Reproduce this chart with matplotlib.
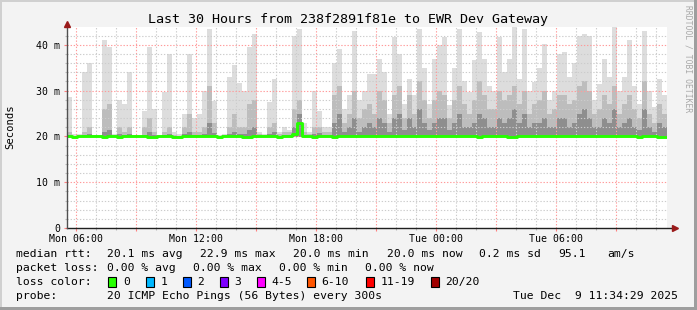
import numpy as np
import matplotlib
matplotlib.use("Agg")
import matplotlib.pyplot as plt
from matplotlib.patches import Rectangle

plt.rcParams['font.family'] = ['DejaVu Sans Mono']

# ---- data (15 min slots, Mon 05:34:29 -> Tue 11:34:29) ----
t_start = 5 + 34/60 + 29/3600   # hours since Mon 00:00
slot_h = 0.25

smoke_max = [
    28.7, 20.5, 20.6, 34.0, 36.0, 20.3, 20.4, 41.0, 39.5, 20.5,
    28.0, 27.0, 34.0, 20.3, 20.4, 25.5, 39.5, 26.0, 20.3, 29.7,
    38.0, 21.0, 20.5, 25.0, 38.0, 24.0, 25.0, 30.0, 43.5, 27.8,
    20.3, 20.5, 33.0, 35.6, 31.7, 30.0, 39.5, 42.4, 21.0, 20.5,
    27.6, 32.6, 21.0, 22.0, 21.5, 42.0, 43.5, 23.0, 21.0, 30.0,
    25.5, 22.0, 22.0, 36.0, 39.0, 26.0, 29.0, 43.0, 28.0, 30.0,
    33.7, 33.7, 37.0, 34.0, 25.0, 41.7, 38.0, 27.0, 32.6, 29.0,
    43.5, 35.0, 27.0, 37.0, 40.0, 41.7, 26.8, 35.0, 43.5, 32.0,
    29.7, 36.6, 42.8, 37.0, 31.0, 30.0, 41.7, 34.0, 37.0, 43.8,
    32.6, 43.5, 30.0, 31.9, 35.0, 40.2, 28.0, 30.0, 38.0, 38.4,
    33.0, 36.0, 42.0, 42.4, 42.0, 28.0, 31.5, 37.0, 33.0, 43.8,
    30.0, 33.0, 41.0, 31.0, 27.0, 43.0, 30.0, 26.4, 32.6, 29.0,
]
smoke_mid = [
    21.0, 20.2, 20.2, 21.0, 22.0, 20.2, 20.2, 26.0, 27.0, 20.3,
    22.0, 21.0, 22.0, 20.2, 20.2, 22.0, 24.0, 21.0, 20.2, 21.0,
    22.0, 20.4, 20.2, 22.0, 25.0, 21.0, 21.0, 22.0, 31.0, 23.0,
    20.2, 20.3, 22.0, 25.0, 22.0, 22.0, 27.0, 28.0, 20.5, 20.3,
    22.0, 23.0, 20.5, 21.0, 21.0, 26.0, 28.0, 21.0, 20.5, 22.0,
    22.0, 21.0, 21.0, 29.0, 31.0, 23.0, 25.0, 30.0, 24.0, 26.0,
    27.0, 25.0, 30.0, 28.0, 23.0, 29.0, 31.0, 24.0, 29.0, 25.0,
    32.0, 28.0, 24.0, 28.0, 30.0, 29.0, 24.0, 28.0, 31.0, 27.0,
    25.0, 28.0, 32.0, 29.0, 26.0, 26.0, 30.0, 28.0, 29.0, 31.0,
    27.0, 30.0, 25.0, 27.0, 28.0, 30.0, 25.0, 26.0, 29.0, 29.0,
    27.0, 28.0, 31.0, 32.0, 30.0, 25.0, 26.0, 29.0, 27.0, 31.0,
    25.0, 27.0, 29.0, 26.0, 24.0, 32.0, 25.0, 23.0, 27.0, 25.0,
]
smoke_dark = [
    20.3, 20.1, 20.1, 20.4, 20.5, 20.1, 20.1, 21.0, 21.5, 20.1,
    20.5, 20.3, 20.5, 20.1, 20.1, 20.4, 21.0, 20.3, 20.1, 20.4,
    20.5, 20.1, 20.1, 20.5, 21.0, 20.3, 20.3, 20.5, 23.0, 20.8,
    20.1, 20.1, 20.5, 21.0, 20.5, 20.6, 21.5, 22.0, 20.2, 20.1,
    20.5, 21.0, 20.2, 20.3, 20.3, 22.0, 25.0, 20.4, 20.2, 20.6,
    20.8, 20.4, 20.4, 23.0, 25.0, 21.0, 22.0, 24.0, 21.0, 22.0,
    23.0, 22.0, 24.0, 23.0, 21.0, 24.0, 25.0, 21.5, 24.0, 22.0,
    26.0, 23.0, 21.5, 23.0, 24.0, 24.0, 21.5, 23.0, 25.0, 22.0,
    22.0, 23.0, 25.0, 24.0, 22.0, 22.0, 24.0, 23.0, 24.0, 26.0,
    23.0, 25.0, 22.0, 23.0, 23.0, 24.0, 22.0, 22.0, 24.0, 24.0,
    22.0, 23.0, 25.0, 26.0, 24.0, 22.0, 22.0, 24.0, 23.0, 26.0,
    22.0, 23.0, 24.0, 22.0, 21.5, 26.0, 22.0, 21.0, 23.0, 22.0,
]
median_rtt = [
    20.0, 19.9, 20.0, 20.0, 20.0, 20.0, 20.0, 19.9, 20.0, 20.0,
    19.9, 20.0, 20.0, 20.0, 20.0, 20.0, 19.9, 19.9, 20.0, 20.0,
    20.0, 19.9, 19.9, 20.0, 20.0, 20.0, 20.0, 20.0, 20.0, 20.0,
    19.9, 20.0, 20.0, 20.0, 20.0, 19.9, 19.9, 20.0, 20.0, 20.0,
    20.0, 20.0, 19.9, 20.0, 20.0, 20.6, 22.9, 20.0, 20.0, 19.9,
    20.0, 20.0, 20.0, 19.9, 20.0, 20.0, 20.0, 20.0, 20.0, 20.0,
    20.0, 20.0, 20.0, 20.0, 20.0, 20.0, 20.0, 20.0, 20.0, 20.0,
    20.0, 20.0, 20.0, 20.0, 20.0, 20.0, 20.0, 20.0, 20.0, 20.0,
    20.0, 20.0, 19.9, 20.0, 20.0, 20.0, 20.0, 20.0, 19.9, 19.9,
    20.0, 20.0, 20.0, 20.0, 20.0, 20.0, 20.0, 20.0, 20.0, 20.0,
    20.0, 20.0, 20.0, 20.0, 20.0, 20.0, 20.0, 20.0, 20.0, 20.0,
    20.0, 20.0, 20.0, 20.0, 19.9, 20.0, 20.0, 20.0, 19.9, 19.9,
]

tick_hours = [6, 9, 12, 15, 18, 21, 24, 27, 30, 33]
tick_labels = ["Mon 06:00", "", "Mon 12:00", "", "Mon 18:00", "",
               "Tue 00:00", "", "Tue 06:00", ""]
y_ticks = [0, 10, 20, 30, 40]
y_labels = ["0", "10 m", "20 m", "30 m", "40 m"]

loss_labels = ["0", "1", "2", "3", "4-5", "6-10", "11-19", "20/20"]
loss_colors = ["#26ff00", "#00b8ff", "#0059ff", "#7e00ff",
               "#ff00ff", "#ff5500", "#ff0000", "#a10000"]

rtt_stats = ["20.1 ms avg", "22.9 ms max", "20.0 ms min", "20.0 ms now",
             "0.2 ms sd", "95.1", "am/s"]
loss_stats = ["0.00 % avg", "0.00 % max", "0.00 % min", "0.00 % now"]

# ---- figure ----
W, H = 697, 310
fig = plt.figure(figsize=(W/100, H/100), dpi=100)
fig.patch.set_facecolor('#f3f3f3')

def fx(px):
    return px / W

def fy(py):
    return 1 - py / H

ax = fig.add_axes([fx(67), fy(228), (667-67)/W, (228-27)/H])
ax.set_facecolor('white')

n = len(smoke_max)
edges = t_start + slot_h * np.arange(n + 1)

def stepfill(vals, color):
    v = np.append(vals, vals[-1])
    ax.fill_between(edges, 19.9, v, step='post', color=color, lw=0, zorder=1)

stepfill(smoke_max, '#dddddd')
stepfill(smoke_mid, '#bdbdbd')
stepfill(smoke_dark, '#8e8e8e')

med = np.append(median_rtt, median_rtt[-1])
ax.plot(edges, med, drawstyle='steps-post', color='#26ff00', lw=2.1, zorder=5)

ax.set_xlim(t_start, t_start + 30)
ax.set_ylim(0, 43.9)

# grid
dots = (0, (1.2, 1.6))
for h in range(6, 36):
    if h % 3 == 0:
        ax.axvline(h, color='#ff9a9a', lw=0.8, ls=dots, zorder=3)
    else:
        ax.axvline(h, color='#cccccc', lw=0.8, ls=dots, zorder=3)
for v in range(2, 44, 2):
    if v % 10 == 0:
        ax.axhline(v, color='#ff9a9a', lw=0.8, ls=dots, zorder=3)
    else:
        ax.axhline(v, color='#cccccc', lw=0.8, ls=dots, zorder=3)

ax.set_xticks(tick_hours)
ax.set_xticklabels(tick_labels)
ax.set_xticks(range(6, 36), minor=True)
ax.set_yticks(y_ticks)
ax.set_yticklabels(y_labels)
ax.set_yticks(range(0, 44, 2), minor=True)
ax.tick_params(which='major', length=2, width=0.8, color='#ff8080',
               labelsize=7.1, pad=2)
ax.tick_params(which='minor', length=1.5, width=0.8, color='#bbbbbb')
ax.tick_params(axis='y', pad=3)
for s in ax.spines.values():
    s.set_visible(False)

# axes with arrows
ax.plot([0, 1.012], [0, 0], transform=ax.transAxes, color='#202020',
        lw=1.0, clip_on=False, zorder=6)
ax.plot([0, 0], [0, 1.015], transform=ax.transAxes, color='#505050',
        lw=1.0, clip_on=False, zorder=6)
ax.plot([1.0125], [0], marker='>', ms=5, color='#9a1a1a',
        transform=ax.transAxes, clip_on=False, zorder=7)
ax.plot([0], [1.015], marker='^', ms=5, color='#9a1a1a',
        transform=ax.transAxes, clip_on=False, zorder=7)

# texts
fig.text(0.5, fy(19), "Last 30 Hours from 238f2891f81e to EWR Dev Gateway",
         ha='center', va='center', fontsize=9.6)
fig.text(fx(10), fy(127), "Seconds", rotation=90, ha='center', va='center',
         fontsize=7.6)
fig.text(fx(688), fy(5), "RRDTOOL / TOBI OETIKER", rotation=-90,
         ha='center', va='top', fontsize=5.8, color='#a8a8a8')

fs = 8.2
row_y = [254, 268, 282, 296]
fig.text(fx(16), fy(row_y[0]), "median rtt:", va='center', fontsize=fs)
for xp, s in zip([107, 200, 293, 387, 479, 558, 607], rtt_stats):
    fig.text(fx(xp), fy(row_y[0]), s, va='center', fontsize=fs)

fig.text(fx(16), fy(row_y[1]), "packet loss:", va='center', fontsize=fs)
for xp, s in zip([107, 193, 279, 365], loss_stats):
    fig.text(fx(xp), fy(row_y[1]), s, va='center', fontsize=fs)

fig.text(fx(16), fy(row_y[2]), "loss color:", va='center', fontsize=fs)
box_x = [108, 145.5, 182.5, 219.5, 256.5, 306.5, 365.5, 430.5]
for bx, lab, c in zip(box_x, loss_labels, loss_colors):
    fig.add_artist(Rectangle((fx(bx), fy(287)), 8/W, 10/H, facecolor=c,
                             edgecolor='black', lw=0.8,
                             transform=fig.transFigure))
    fig.text(fx(bx + 15), fy(row_y[2]), lab, va='center', fontsize=fs)

fig.text(fx(16), fy(row_y[3]), "probe:", va='center', fontsize=fs)
fig.text(fx(107), fy(row_y[3]), "20 ICMP Echo Pings (56 Bytes) every 300s",
         va='center', fontsize=fs)
fig.text(fx(513), fy(row_y[3]), "Tue Dec  9 11:34:29 2025",
         va='center', fontsize=fs)

# 3d frame
fig.add_artist(Rectangle((0, 1 - 2/H), 1, 2/H, color='#d0d0d0', lw=0,
                         transform=fig.transFigure))
fig.add_artist(Rectangle((0, 0), 2/W, 1, color='#d0d0d0', lw=0,
                         transform=fig.transFigure))
fig.add_artist(Rectangle((0, 0), 1, 3/H, color='#9e9e9e', lw=0,
                         transform=fig.transFigure))
fig.add_artist(Rectangle((1 - 3/W, 0), 3/W, 1, color='#9e9e9e', lw=0,
                         transform=fig.transFigure))

fig.savefig("out.png", dpi=100, facecolor=fig.get_facecolor())
